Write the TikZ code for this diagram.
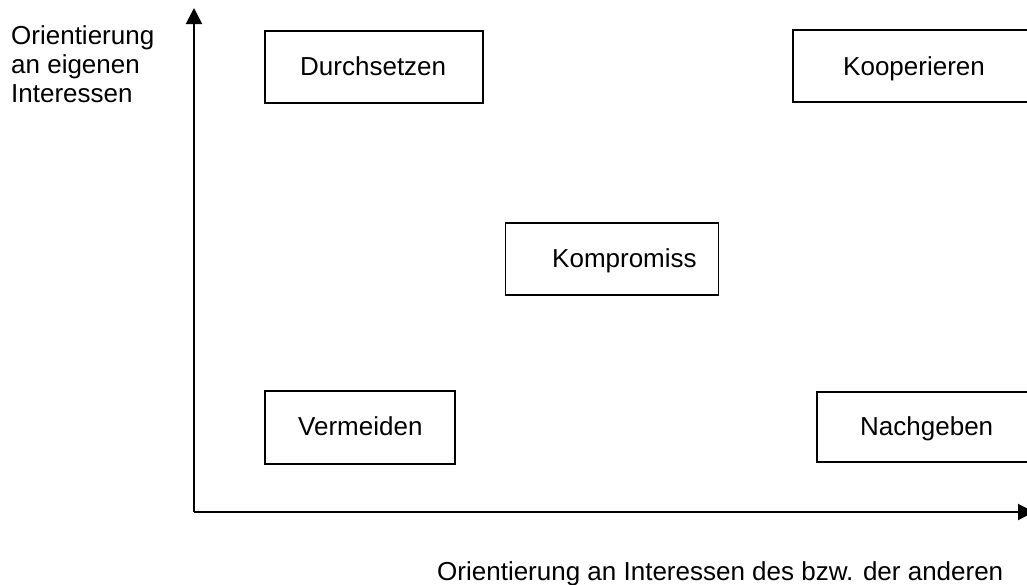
\documentclass[tikz,border=0pt]{standalone}
\usepackage{fontspec}
\setmainfont{Liberation Sans}
\usetikzlibrary{arrows.meta}
\begin{document}
\begin{tikzpicture}[x=1pt,y=-1pt,
  every node/.style={font=\fontsize{26}{30}\selectfont, inner sep=0pt},
  boxstyle/.style={draw=black, line width=1.5pt, rectangle},
  lbl/.style={anchor=base west},
  axis/.style={line width=2pt, -{Triangle[length=16pt,width=16pt]}}]
\useasboundingbox (0,0) rectangle (1027,584);
\clip (0,0) rectangle (1027,584);
\fill[white] (0,0) rectangle (1027,584);
% boxes
\node[boxstyle, minimum width=218pt, minimum height=72pt] (b1) at (374,67) {};
\node[boxstyle, minimum width=240pt, minimum height=72pt] (b2) at (913,66) {};
\node[boxstyle, minimum width=213pt, minimum height=72pt] (b3) at (612,259) {};
\node[boxstyle, minimum width=190pt, minimum height=73pt] (b4) at (360,427.5) {};
\node[boxstyle, minimum width=220pt, minimum height=70pt] (b5) at (927,427) {};
% box texts
\node[lbl] (t1) at (300,75) {Durchsetzen};
\node[lbl] (t2) at (843,75) {Kooperieren};
\node[lbl] (t3) at (552,267) {Kompromiss};
\node[lbl] (t4) at (298,435) {Vermeiden};
\node[lbl] (t5) at (860,435) {Nachgeben};
% axis labels
\node[lbl] (yl1) at (11,44) {Orientierung};
\node[lbl] (yl2) at (11,73) {an eigenen};
\node[lbl] (yl3) at (11,102) {Interessen};
\node[lbl] (xl) at (437,580) {Orientierung an Interessen des bzw. der anderen};
% axes
\coordinate (origin) at (194,512);
\coordinate (ytop) at (194,8);
\coordinate (xend) at (1034,512);
\draw[axis] (origin) -- (ytop);
\draw[axis] (origin) -- (xend);
\end{tikzpicture}
\end{document}
